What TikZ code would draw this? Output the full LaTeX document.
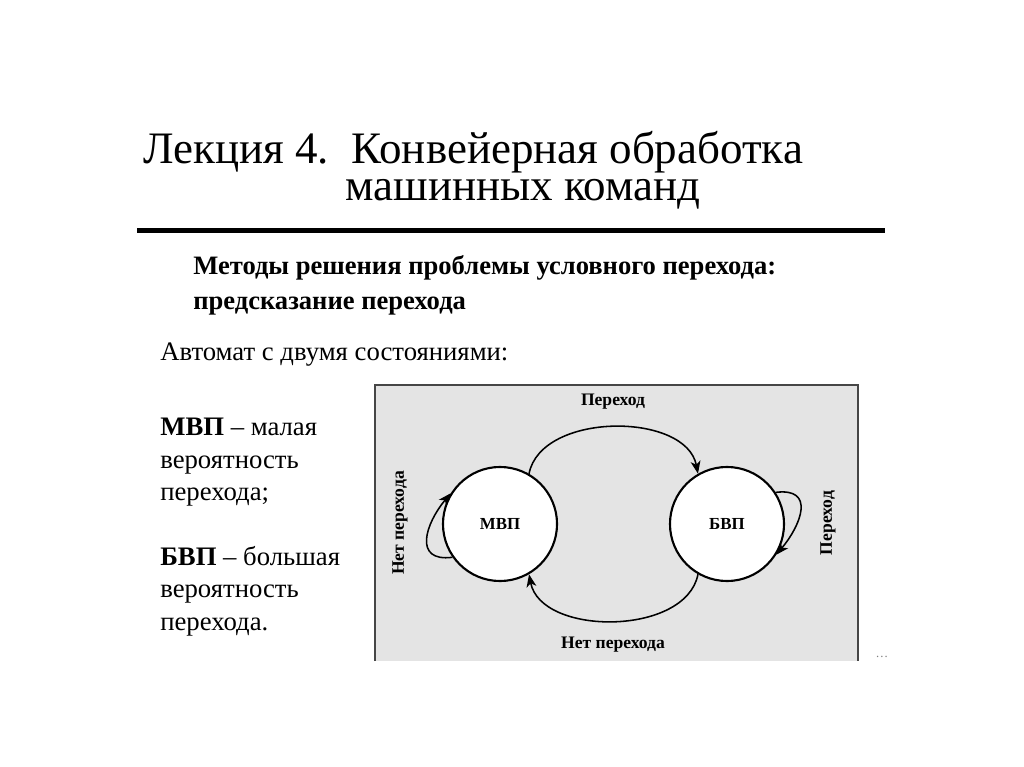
\documentclass[tikz,border=0pt]{standalone}
\usepackage{fontspec}
\setmainfont{Liberation Serif}
\usetikzlibrary{arrows.meta,positioning}

\definecolor{boxgray}{RGB}{228,228,228}
\definecolor{edgegray}{RGB}{70,70,70}

\tikzset{
  headtext/.style={anchor=base west, inner sep=0pt, font=\fontsize{32}{36}\selectfont},
  subtext/.style={anchor=base west, inner sep=0pt, font=\fontsize{18.9}{21}\selectfont\bfseries},
  bodytext/.style={anchor=base west, inner sep=0pt, font=\fontsize{19}{21}\selectfont},
  state/.style={circle, draw, fill=white, line width=1.5pt, minimum size=2.85cm, inner sep=0pt,
    font=\fontsize{12}{14}\selectfont\bfseries},
  edgelabel/.style={inner sep=0pt, font=\fontsize{12.5}{14}\selectfont\bfseries},
  trans/.style={line width=1.1pt, -{Stealth[length=9pt, width=7pt, inset=2.5pt]}}
}

\begin{document}
\begin{tikzpicture}[x=0.025cm, y=-0.025cm]
  \fill[white] (0,0) rectangle (1024,767);
  \useasboundingbox (0,0) rectangle (1024,767);

  \node[headtext, text depth=0pt] (head1) at (143,164) {Лекция 4.\ \ Конвейерная обработка};
  \node[headtext, text height=0.5em] (head2) at (345,201) {машинных команд};
  \fill (137,228) rectangle (885,233);

  \node[subtext] (sub1) at (193,275) {Методы решения проблемы условного перехода:};
  \node[subtext] (sub2) at (193,309) {предсказание перехода};
  \node[bodytext] (auto) at (160,360) {Автомат с двумя состояниями:};
  \foreach \y/\txt in {435/{\textbf{МВП} -- малая}, 468/{вероятность}, 500/{перехода;},
                      565/{\textbf{БВП} -- большая}, 597/{вероятность}, 630/{перехода.}}{
    \node[bodytext] (note-\y) at (160,\y) {\txt};
  }

  \fill[boxgray] (375,385) rectangle (858,661);
  \draw[edgegray, line width=1.2pt] (375,661) -- (375,385) -- (858,385) -- (858,661);

  \node[state] (mvp) at (500,524) {МВП};
  \node[state] (bvp) at (727,524) {БВП};

  \draw[trans] (mvp.60) .. controls +(12,-62) and +(-12,-62) .. (bvp.120);
  \draw[trans] (bvp.-120) .. controls +(-12,62) and +(12,62) .. (mvp.-60);
  \draw[trans] (mvp.215) .. controls +(-40,5) and +(-25,30) .. (mvp.148);
  \draw[trans] (bvp.33) .. controls +(40,-5) and +(25,-30) .. (bvp.-32);

  \node[edgelabel] (lbl-top) at (613,402) {Переход};
  \node[edgelabel] (lbl-bot) at (613,645) {Нет перехода};
  \node[edgelabel, rotate=90] (lbl-left) at (400,523) {Нет перехода};
  \node[edgelabel, rotate=90] (lbl-right) at (828,523) {Переход};
  \node[inner sep=0pt, text=gray, font=\fontsize{9}{9}\selectfont] (dots) at (882,657) {…};
\end{tikzpicture}
\end{document}
